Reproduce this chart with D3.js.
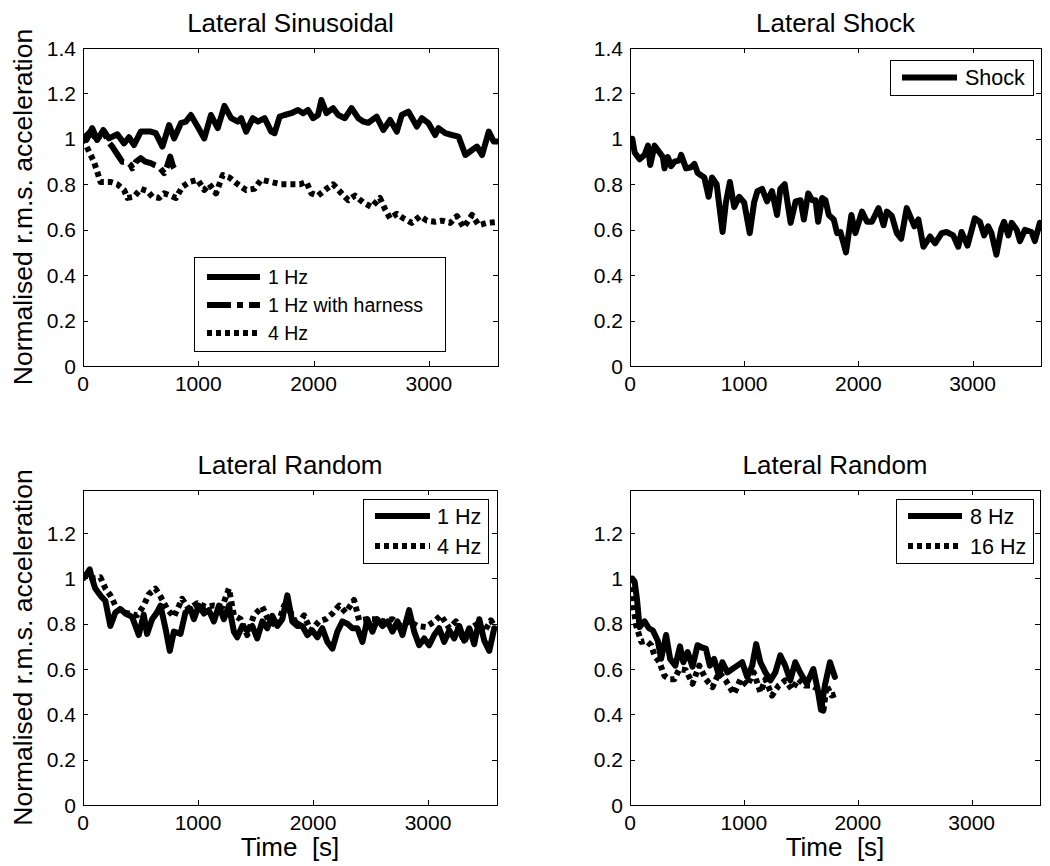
<!DOCTYPE html>
<html>
<head>
<meta charset="utf-8">
<script src="https://cdn.jsdelivr.net/npm/d3@7"></script>
<style>
  body { margin: 0; background: #fff; }
  text { font-family: "Liberation Sans", Arial, Helvetica, sans-serif; fill: #000; }
</style>
</head>
<body>
<svg id="fig" width="1050" height="866"></svg>
<script>
// ---- data: [time (s), normalised r.m.s. acceleration] ----
const sin1Hz = [[0,1.0],[30,0.995],[80,1.047],[123,0.995],[176,1.039],[225,1.002],[298,1.020],[356,0.980],[399,1.007],[443,0.973],
  [501,1.032],[588,1.032],[631,1.025],[689,0.966],[747,1.061],[791,1.002],[849,1.069],[892,1.076],[936,1.105],[994,1.054],
  [1052,1.002],[1110,1.105],[1169,1.047],[1227,1.145],[1285,1.091],[1343,1.076],[1372,1.091],[1415,1.032],[1473,1.091],[1517,1.076],
  [1575,1.091],[1633,1.032],[1662,1.025],[1706,1.098],[1749,1.105],[1807,1.113],[1865,1.127],[1909,1.113],[1952,1.127],[1996,1.091],
  [2039,1.105],[2068,1.171],[2112,1.113],[2170,1.135],[2214,1.105],[2272,1.091],[2330,1.135],[2388,1.091],[2431,1.076],[2475,1.071],
  [2547,1.098],[2605,1.039],[2664,1.083],[2722,1.032],[2765,1.105],[2823,1.120],[2896,1.054],[2939,1.091],[2997,1.069],[3055,1.017],
  [3084,1.047],[3142,1.025],[3200,1.017],[3258,1.010],[3317,0.929],[3375,0.951],[3418,0.966],[3462,0.929],[3520,1.032],[3563,0.988],[3607,0.988]];

const sin1HzHarness = [[0,1.0],[60,1.03],[120,1.0],[180,1.03],[230,0.98],[254,0.966],[300,0.93],[341,0.899],[380,0.9],[414,0.885],
  [428,0.87],[460,0.9],[501,0.915],[540,0.9],[588,0.893],[620,0.885],[660,0.877],[704,0.849],[730,0.88],[756,0.922],[780,0.88],[806,0.856]];

const sin4Hz = [[0,1.0],[94,0.90],[123,0.856],[152,0.81],[240,0.81],[298,0.80],[356,0.775],[385,0.74],[443,0.745],[501,0.78],
  [559,0.77],[602,0.745],[660,0.74],[704,0.76],[762,0.75],[806,0.74],[864,0.79],[922,0.81],[994,0.82],[1052,0.775],
  [1096,0.80],[1154,0.76],[1212,0.84],[1270,0.83],[1343,0.80],[1415,0.775],[1488,0.78],[1546,0.82],[1633,0.81],[1720,0.80],
  [1807,0.80],[1880,0.80],[1938,0.81],[1981,0.76],[2039,0.75],[2112,0.78],[2170,0.80],[2243,0.76],[2301,0.73],[2359,0.75],
  [2431,0.72],[2504,0.70],[2576,0.74],[2620,0.69],[2664,0.65],[2722,0.67],[2780,0.65],[2852,0.63],[2925,0.66],[2983,0.64],
  [3055,0.635],[3113,0.64],[3186,0.63],[3244,0.66],[3302,0.61],[3375,0.665],[3433,0.62],[3505,0.63],[3607,0.635]];

const shock = [[0,1.0],[20,1.0],[41,0.94],[84,0.91],[128,0.93],[157,0.97],[177,0.885],[215,0.97],[259,0.94],[288,0.92],
  [302,0.87],[331,0.92],[360,0.88],[390,0.90],[433,0.905],[448,0.93],[491,0.87],[535,0.875],[564,0.89],[593,0.85],
  [651,0.83],[689,0.745],[718,0.83],[759,0.80],[811,0.59],[840,0.72],[875,0.81],[913,0.70],[956,0.745],[1000,0.72],
  [1049,0.585],[1087,0.72],[1116,0.77],[1157,0.78],[1201,0.725],[1244,0.77],[1288,0.665],[1317,0.78],[1355,0.80],[1407,0.63],
  [1451,0.725],[1494,0.73],[1523,0.645],[1561,0.76],[1596,0.73],[1625,0.73],[1648,0.635],[1683,0.74],[1712,0.73],[1741,0.665],
  [1785,0.645],[1814,0.585],[1843,0.59],[1892,0.50],[1939,0.665],[1974,0.585],[2032,0.68],[2076,0.635],[2119,0.635],[2177,0.695],
  [2221,0.62],[2250,0.68],[2294,0.66],[2337,0.585],[2375,0.56],[2424,0.695],[2491,0.615],[2526,0.645],[2570,0.525],[2628,0.57],
  [2672,0.54],[2730,0.585],[2773,0.59],[2831,0.575],[2875,0.525],[2904,0.59],[2956,0.53],[3020,0.65],[3064,0.635],[3102,0.575],
  [3137,0.615],[3166,0.585],[3209,0.49],[3253,0.605],[3276,0.635],[3314,0.575],[3343,0.63],[3387,0.60],[3416,0.55],[3459,0.60],
  [3517,0.59],[3546,0.55],[3590,0.63]];

const rnd1Hz = [[0,1.0],[20,1.01],[58,1.04],[78,1.0],[107,0.955],[151,0.925],[195,0.90],[238,0.79],[282,0.85],[325,0.865],
  [369,0.845],[427,0.83],[485,0.75],[528,0.84],[557,0.755],[601,0.82],[644,0.85],[674,0.88],[717,0.78],[755,0.68],
  [790,0.765],[848,0.755],[891,0.85],[935,0.865],[964,0.82],[1007,0.88],[1051,0.845],[1094,0.86],[1138,0.81],[1182,0.88],
  [1225,0.82],[1269,0.88],[1312,0.765],[1341,0.74],[1385,0.79],[1428,0.77],[1472,0.79],[1515,0.735],[1559,0.81],[1602,0.78],
  [1646,0.835],[1690,0.79],[1733,0.82],[1777,0.925],[1820,0.81],[1864,0.79],[1907,0.79],[1951,0.75],[1994,0.77],[2038,0.74],
  [2081,0.78],[2125,0.72],[2169,0.69],[2212,0.765],[2256,0.81],[2299,0.80],[2343,0.78],[2386,0.78],[2430,0.72],[2473,0.82],
  [2517,0.765],[2560,0.82],[2604,0.79],[2648,0.81],[2691,0.765],[2735,0.81],[2778,0.75],[2836,0.86],[2880,0.765],[2923,0.705],
  [2967,0.735],[3010,0.705],[3054,0.75],[3097,0.78],[3141,0.72],[3185,0.77],[3228,0.735],[3272,0.79],[3315,0.725],[3359,0.78],
  [3402,0.71],[3446,0.82],[3489,0.725],[3533,0.68],[3576,0.78]];

const rnd4Hz = [[0,1.0],[20,1.01],[78,1.0],[151,1.005],[195,0.955],[238,0.925],[282,0.88],[340,0.85],[398,0.845],[470,0.837],
  [528,0.88],[572,0.93],[630,0.955],[674,0.92],[732,0.865],[790,0.83],[862,0.91],[920,0.865],[993,0.89],[1065,0.875],
  [1138,0.88],[1211,0.875],[1269,0.955],[1312,0.837],[1370,0.82],[1428,0.75],[1486,0.837],[1559,0.875],[1617,0.81],[1690,0.79],
  [1748,0.88],[1806,0.85],[1864,0.79],[1922,0.837],[1980,0.77],[2052,0.81],[2111,0.82],[2169,0.845],[2227,0.88],[2285,0.85],
  [2357,0.905],[2401,0.815],[2473,0.82],[2546,0.82],[2619,0.81],[2691,0.82],[2764,0.79],[2836,0.81],[2909,0.79],[2981,0.785],
  [3054,0.81],[3112,0.837],[3185,0.78],[3243,0.81],[3315,0.72],[3373,0.78],[3431,0.80],[3489,0.765],[3547,0.815],[3576,0.79]];

const rnd8Hz = [[0,1.0],[20,1.0],[41,0.985],[61,0.91],[84,0.785],[108,0.80],[128,0.81],[166,0.78],[201,0.77],[244,0.725],
  [273,0.645],[317,0.75],[352,0.645],[398,0.615],[439,0.70],[468,0.63],[506,0.675],[549,0.61],[593,0.705],[631,0.695],
  [666,0.69],[701,0.615],[738,0.645],[782,0.57],[811,0.63],[855,0.585],[898,0.60],[942,0.615],[985,0.63],[1029,0.565],
  [1073,0.615],[1108,0.71],[1145,0.63],[1189,0.585],[1233,0.55],[1276,0.585],[1320,0.66],[1363,0.615],[1407,0.55],[1451,0.63],
  [1494,0.585],[1552,0.535],[1610,0.60],[1648,0.51],[1677,0.42],[1712,0.53],[1756,0.63],[1799,0.565]];

const rnd16Hz = [[0,1.0],[20,0.95],[32,0.87],[55,0.79],[99,0.72],[142,0.725],[186,0.705],[215,0.66],[259,0.63],[302,0.57],
  [346,0.555],[390,0.555],[433,0.60],[491,0.595],[549,0.535],[608,0.615],[666,0.555],[724,0.52],[782,0.585],[840,0.55],
  [913,0.49],[971,0.555],[1029,0.527],[1087,0.585],[1145,0.497],[1189,0.555],[1247,0.483],[1305,0.527],[1363,0.55],[1422,0.51],
  [1480,0.555],[1538,0.527],[1596,0.527],[1654,0.51],[1698,0.416],[1727,0.527],[1770,0.483],[1814,0.49]];

const xTicks = [0, 1000, 2000, 3000];
const yTicksTop = [0, 0.2, 0.4, 0.6, 0.8, 1, 1.2, 1.4];
const yTicksBottom = [0, 0.2, 0.4, 0.6, 0.8, 1, 1.2];

// line styles (MATLAB '-', '-.', ':')
const dashes = { solid: null, dashdot: "24,6,6,6", dotted: "5,4" };

const panels = [
  { title: "Lateral Sinusoidal", box: [83, 48, 498, 366], yMax: 1.4, yTicks: yTicksTop, ylabel: true, xlabel: false,
    series: [{ data: sin1Hz, style: "solid", name: "1 Hz" },
             { data: sin1HzHarness, style: "dashdot", name: "1 Hz with harness" },
             { data: sin4Hz, style: "dotted", name: "4 Hz" }],
    legend: { box: [194, 257, 445, 351], fs: 19.5, rows: [277, 305, 333], line: [207, 260], tx: 268 } },
  { title: "Lateral Shock", box: [630, 48, 1041, 366], yMax: 1.4, yTicks: yTicksTop, ylabel: false, xlabel: false,
    series: [{ data: shock, style: "solid", name: "Shock" }],
    legend: { box: [890, 60, 1033, 95], fs: 21.5, rows: [77.5], line: [902, 957], tx: 965 } },
  { title: "Lateral Random", box: [83, 490, 497, 805], yMax: 1.39, yTicks: yTicksBottom, ylabel: true, xlabel: true,
    series: [{ data: rnd1Hz, style: "solid", name: "1 Hz" },
             { data: rnd4Hz, style: "dotted", name: "4 Hz" }],
    legend: { box: [363, 499, 488, 563], fs: 21.5, rows: [516, 546], line: [375, 430], tx: 437 } },
  { title: "Lateral Random", box: [630, 490, 1040, 805], yMax: 1.39, yTicks: yTicksBottom, ylabel: false, xlabel: true,
    series: [{ data: rnd8Hz, style: "solid", name: "8 Hz" },
             { data: rnd16Hz, style: "dotted", name: "16 Hz" }],
    legend: { box: [896, 499, 1033, 563], fs: 21.5, rows: [516, 546], line: [908, 962], tx: 970 } }
];

const svg = d3.select("#fig");

panels.forEach((p, i) => {
  const [x0, y0, x1, y1] = p.box;
  const x = d3.scaleLinear().domain([0, 3600]).range([x0, x1]);
  const y = d3.scaleLinear().domain([0, p.yMax]).range([y1, y0]);
  const g = svg.append("g");

  svg.append("clipPath").attr("id", "clip" + i)
    .append("rect").attr("x", x0).attr("y", y0).attr("width", x1 - x0).attr("height", y1 - y0);

  // data lines
  const line = d3.line().x(d => x(d[0])).y(d => y(d[1]));
  const plot = g.append("g").attr("clip-path", "url(#clip" + i + ")");
  p.series.forEach(s => {
    plot.append("path")
      .datum(s.data)
      .attr("d", line)
      .attr("fill", "none")
      .attr("stroke", "#000")
      .attr("stroke-width", 6)
      .attr("stroke-linejoin", "round")
      .attr("stroke-linecap", s.style === "solid" ? "round" : "butt")
      .attr("stroke-dasharray", dashes[s.style]);
  });

  // box + inward ticks on all four sides
  g.append("rect")
    .attr("x", x0 + 0.5).attr("y", y0 + 0.5)
    .attr("width", x1 - x0).attr("height", y1 - y0)
    .attr("fill", "none").attr("stroke", "#000").attr("stroke-width", 1);

  const tk = 5;
  xTicks.forEach(t => {
    const px = Math.round(x(t)) + 0.5;
    g.append("line").attr("x1", px).attr("x2", px).attr("y1", y1).attr("y2", y1 - tk).attr("stroke", "#000");
    g.append("line").attr("x1", px).attr("x2", px).attr("y1", y0).attr("y2", y0 + tk).attr("stroke", "#000");
    g.append("text").attr("x", x(t)).attr("y", y1 + 25)
      .attr("text-anchor", "middle").attr("font-size", 21).text(t);
  });
  p.yTicks.forEach(t => {
    const py = Math.round(y(t)) + 0.5;
    g.append("line").attr("x1", x0).attr("x2", x0 + tk).attr("y1", py).attr("y2", py).attr("stroke", "#000");
    g.append("line").attr("x1", x1).attr("x2", x1 - tk).attr("y1", py).attr("y2", py).attr("stroke", "#000");
    g.append("text").attr("x", x0 - 7).attr("y", y(t)).attr("dy", "0.36em")
      .attr("text-anchor", "end").attr("font-size", 21).text(t);
  });

  // title and axis labels
  g.append("text").attr("x", (x0 + x1) / 2).attr("y", y0 - 16)
    .attr("text-anchor", "middle").attr("font-size", 26).text(p.title);

  if (p.ylabel) {
    g.append("text")
      .attr("transform", `translate(32,${(y0 + y1) / 2}) rotate(-90)`)
      .attr("text-anchor", "middle").attr("font-size", 26.5)
      .text("Normalised r.m.s. acceleration");
  }
  if (p.xlabel) {
    g.append("text").attr("x", (x0 + x1) / 2).attr("y", 856)
      .attr("text-anchor", "middle").attr("font-size", 26)
      .style("white-space", "pre").text("Time  [s]");
  }

  // legend
  const L = p.legend;
  const lg = g.append("g");
  lg.append("rect")
    .attr("x", L.box[0] + 0.5).attr("y", L.box[1] + 0.5)
    .attr("width", L.box[2] - L.box[0]).attr("height", L.box[3] - L.box[1])
    .attr("fill", "#fff").attr("stroke", "#000");
  p.series.forEach((s, k) => {
    const ry = L.rows[k];
    lg.append("line")
      .attr("x1", L.line[0]).attr("x2", L.line[1]).attr("y1", ry).attr("y2", ry)
      .attr("stroke", "#000").attr("stroke-width", 6)
      .attr("stroke-dasharray", dashes[s.style]);
    lg.append("text").attr("x", L.tx).attr("y", ry).attr("dy", "0.36em")
      .attr("font-size", L.fs).text(s.name);
  });
});
</script>
</body>
</html>
